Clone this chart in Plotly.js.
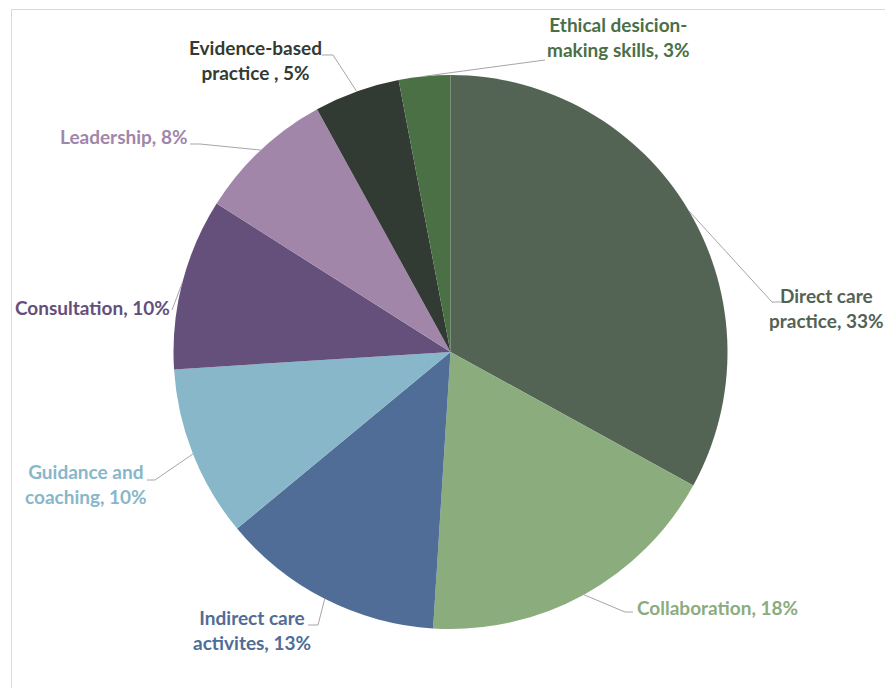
<!DOCTYPE html>
<html>
<head>
<meta charset="utf-8">
<script src="https://cdn.plot.ly/plotly-3.0.1.min.js"></script>
<style>html,body{margin:0;padding:0;background:#fff;}#chart{width:885px;height:688px;}</style>
</head>
<body>
<div id="chart"></div>
<script>
// ---- data ----
const labels = ["Direct care practice", "Collaboration", "Indirect care activites", "Guidance and coaching", "Consultation", "Leadership", "Evidence-based practice ", "Ethical desicion-making skills"];
const labelText = ["Direct care<br>practice, 33%", "Collaboration, 18%", "Indirect care<br>activites, 13%", "Guidance and<br>coaching, 10%", "Consultation, 10%", "Leadership, 8%", "Evidence-based<br>practice , 5%", "Ethical desicion-<br>making skills, 3%"];
const values = [33, 18, 13, 10, 10, 8, 5, 3];
const colors = ["#546454", "#8BAD7E", "#4F6D96", "#87B7C9", "#654F7B", "#A186AA", "#323B33", "#4B7045"];
const textColors = ["#536353", "#8BAC7E", "#4F6D96", "#87B7C9", "#654F7A", "#A086AA", "#323B33", "#4B6F45"];

// ---- layout config (pixels) ----
const W = 885, H = 688;
const cx = 450.5, cy = 352, R = 277;
// label center position, elbow point and horizontal end point for leader lines
const labelPos = [[826, 308], [717, 607], [252, 630], [86, 484], [92, 307], [124, 136], [255, 60], [618, 37]];
const elbow = [[772, 302], [625, 612], [318, 625], [155, 480], [178, 292], [200, 144], [333, 55], [430, 70]];
const elbowEnd = [[781, 302], [633, 612], [308, 625], [147, 480], [172, 310], [190, 144], [322, 55], [545, 60]];

const px = x => x / W, py = y => 1 - y / H;

const total = values.reduce((a, b) => a + b, 0);
let cum = 0;
const shapes = [];
const annotations = [];
values.forEach((v, i) => {
  const mid = (cum + v / 2) / total * 2 * Math.PI;
  cum += v;
  const ex = cx + R * Math.sin(mid), ey = cy - R * Math.cos(mid);
  let path;
  if (i === 7 || i === 4) {
    path = `M ${px(ex)},${py(ey)} L ${px(elbowEnd[i][0])},${py(elbowEnd[i][1])}`;
  } else {
    path = `M ${px(ex)},${py(ey)} L ${px(elbow[i][0])},${py(elbow[i][1])} L ${px(elbowEnd[i][0])},${py(elbowEnd[i][1])}`;
  }
  shapes.push({type: "path", xref: "paper", yref: "paper", path: path, line: {color: "#A6A6A6", width: 1}, layer: "above"});
  annotations.push({
    xref: "paper", yref: "paper", x: px(labelPos[i][0]), y: py(labelPos[i][1]),
    xanchor: "center", yanchor: "middle", showarrow: false, align: "center",
    text: labelText[i],
    font: {family: "Lato, 'Open Sans', sans-serif", size: 19, color: textColors[i], weight: 700}
  });
});

// frame
shapes.push({type: "path", xref: "paper", yref: "paper",
  path: `M ${px(11.5)},${py(700)} L ${px(11.5)},${py(9.5)} L ${px(900)},${py(9.5)}`,
  line: {color: "#D9D9D9", width: 1}, layer: "below"});

const trace = {
  type: "pie",
  labels: labels,
  values: values,
  sort: false,
  direction: "clockwise",
  rotation: 0,
  marker: {colors: colors, line: {width: 0}},
  textinfo: "none",
  hoverinfo: "label+percent",
  showlegend: false,
  domain: {x: [(cx - R) / W, (cx + R) / W], y: [(H - cy - R) / H, (H - cy + R) / H]}
};

const layout = {
  width: W, height: H,
  margin: {l: 0, r: 0, t: 0, b: 0},
  paper_bgcolor: "#ffffff",
  showlegend: false,
  shapes: shapes,
  annotations: annotations
};

Plotly.newPlot("chart", [trace], layout, {displayModeBar: false, staticPlot: true});
</script>
</body>
</html>
